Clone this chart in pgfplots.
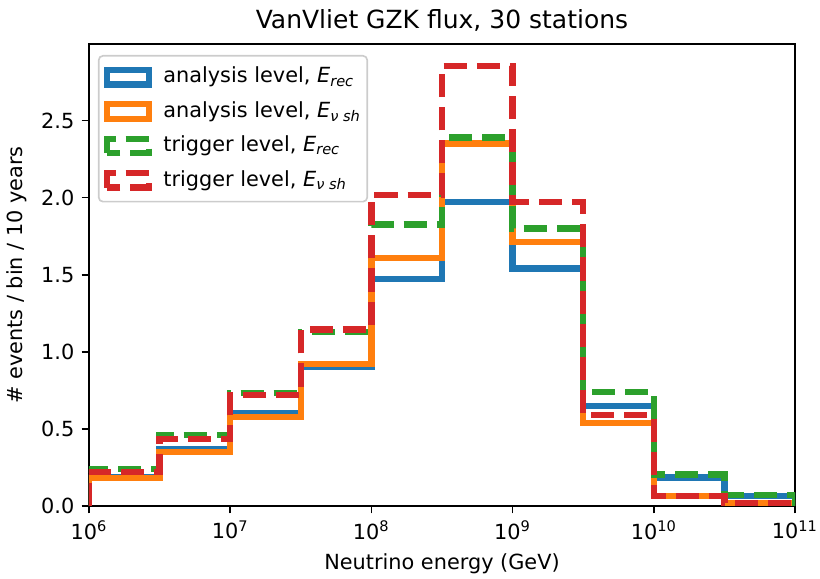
\documentclass[border=0pt]{standalone}
\usepackage{fontspec}
\setmainfont{DejaVu Sans}
\usepackage{pgfplots}
\pgfplotsset{compat=1.18}
\definecolor{tabblue}{HTML}{1F77B4}
\definecolor{taborange}{HTML}{FF7F0E}
\definecolor{tabgreen}{HTML}{2CA02C}
\definecolor{tabred}{HTML}{D62728}
\begin{document}
\begin{tikzpicture}[x=1pt,y=1pt]
\path[use as bounding box] (-42.7,-35.0) rectangle (350.9,242.9);
\begin{axis}[
  at={(0,0)}, anchor=south west, scale only axis,
  width=338.9pt, height=221.8pt,
  xmode=log, log basis x=10,
  xmin=1e6, xmax=1e11, ymin=0, ymax=2.996,
  axis line style={line width=0.8pt},
  tick align=outside, tick pos=left,
  major tick length=3.5pt, minor tick length=2pt,
  every tick/.style={black, line width=0.8pt},
  every minor tick/.style={black, line width=0.6pt},
  xtick={1e6,1e7,1e8,1e9,1e10,1e11},
  xticklabel={10\textsuperscript{\pgfmathparse{int(round(\tick))}\pgfmathresult}},
  ytick={0,0.5,1,1.5,2,2.5},
  yticklabel style={/pgf/number format/fixed,/pgf/number format/fixed zerofill,/pgf/number format/precision=1,/pgf/number format/assume math mode=true},
  tick label style={font=\normalsize},
  xlabel={Neutrino energy (GeV)},
  ylabel={\# events / bin / 10 years},
  title={VanVliet GZK flux, 30 stations},
  title style={font=\large, yshift=-3.5pt},
  legend cell align=left,
  legend style={at={(0,1)}, anchor=north west, xshift=4.3pt, yshift=-5.3pt,
    draw=black!20, rounded corners=2pt, fill=white, fill opacity=0.8, text opacity=1,
    line width=0.8pt, font=\normalsize, row sep=0pt, inner xsep=1pt, inner ysep=2pt,
    nodes={text height=8pt, text depth=2.5pt, inner ysep=3pt, inner xsep=2pt}},
  legend image code/.code={\draw[#1,sharp corners] (1.5pt,-3.5pt) rectangle (21.5pt,3.5pt); \path (0pt,0pt) (25pt,0pt);},
  every axis plot/.append style={line width=3pt, miter limit=10},
]
\addplot[tabblue, const plot mark left, line join=miter] coordinates {
 (1e6,0) (1e6,0.19) (3162277.66,0.37) (1e7,0.60) (31622776.6,0.905) (1e8,1.47)
 (316227766,1.97) (1e9,1.54) (3162277660,0.65) (1e10,0.185) (31622776600,0.065) (1e11,0)};
\addlegendentry{analysis level, \textit{E}\textsubscript{\textit{rec}}}
\addplot[taborange, const plot mark left, line join=miter] coordinates {
 (1e6,0) (1e6,0.18) (3162277.66,0.35) (1e7,0.575) (31622776.6,0.92) (1e8,1.61)
 (316227766,2.35) (1e9,1.71) (3162277660,0.54) (1e10,0.065) (31622776600,0.02) (1e11,0)};
\addlegendentry{analysis level, \textit{E}\textsubscript{\textit{ν sh}}}
\addplot[tabgreen, const plot mark left, line join=miter, dash pattern=on 11.1pt off 4.8pt] coordinates {
 (1e6,0) (1e6,0.24) (3162277.66,0.46) (1e7,0.735) (31622776.6,1.13) (1e8,1.825)
 (316227766,2.39) (1e9,1.80) (3162277660,0.74) (1e10,0.205) (31622776600,0.072) (1e11,0)};
\addlegendentry{trigger level, \textit{E}\textsubscript{\textit{rec}}}
\addplot[tabred, const plot mark left, line join=miter, dash pattern=on 11.1pt off 4.8pt] coordinates {
 (1e6,0) (1e6,0.22) (3162277.66,0.435) (1e7,0.72) (31622776.6,1.145) (1e8,2.015)
 (316227766,2.855) (1e9,1.97) (3162277660,0.59) (1e10,0.065) (31622776600,0.02) (1e11,0)};
\addlegendentry{trigger level, \textit{E}\textsubscript{\textit{ν sh}}}
\end{axis}
\end{tikzpicture}
\end{document}
